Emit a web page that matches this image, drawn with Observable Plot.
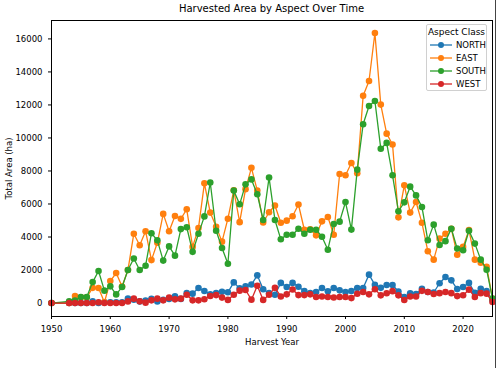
<!DOCTYPE html>
<html>
<head>
<meta charset="utf-8">
<script src="https://cdn.jsdelivr.net/npm/d3@7"></script>
<script src="https://cdn.jsdelivr.net/npm/@observablehq/plot@0.6"></script>
<style>
  html, body { margin: 0; padding: 0; background: #fff; }
  #wrap { position: relative; width: 497px; height: 368px; font-family: "DejaVu Sans", sans-serif; overflow: hidden; }
  #title { position: absolute; left: 51px; width: 441px; top: 3px; text-align: center; font-size: 10px; color: #000; }
  #edge { position: absolute; left: 495px; top: 0; width: 1px; height: 368px; background: #444; }
  #legend { position: absolute; left: 426px; top: 24px; width: 61px; height: 67px; border: 1px solid #d0d0d0; border-radius: 2px; background: rgba(255,255,255,0.85); box-sizing: border-box; font-size: 8.5px; }
  #legend .lt { position: absolute; top: 2px; left: 0; width: 100%; text-align: center; font-size: 9px; }
  #legend .row { position: absolute; left: 2px; height: 12px; }
  #legend svg { position: absolute; left: 0; top: 0; }
  #legend span { position: absolute; left: 27px; top: 0px; line-height: 12px; white-space: nowrap; }
</style>
</head>
<body>
<div id="wrap">
  <div id="chart"></div>
  <div id="title">Harvested Area by Aspect Over Time</div>
  <div id="legend"><div class="lt">Aspect Class</div></div>
  <div id="edge"></div>
</div>
<script>
const years = [1950, 1953, 1954, 1955, 1956, 1957, 1958, 1959, 1960, 1961, 1962, 1963, 1964, 1965, 1966, 1967, 1968, 1969, 1970, 1971, 1972, 1973, 1974, 1975, 1976, 1977, 1978, 1979, 1980, 1981, 1982, 1983, 1984, 1985, 1986, 1987, 1988, 1989, 1990, 1991, 1992, 1993, 1994, 1995, 1996, 1997, 1998, 1999, 2000, 2001, 2002, 2003, 2004, 2005, 2006, 2007, 2008, 2009, 2010, 2011, 2012, 2013, 2014, 2015, 2016, 2017, 2018, 2019, 2020, 2021, 2022, 2023, 2024, 2025];

const north = [0, 0, 0, 0, 0, 100, 0, 50, 50, 50, 50, 267, 200, 100, 150, 250, 100, 200, 250, 406, 250, 600, 570, 909, 727, 527, 600, 680, 650, 1250, 890, 1020, 1120, 1677, 840, 600, 500, 1220, 970, 1220, 990, 720, 606, 667, 909, 709, 909, 770, 667, 727, 909, 909, 1721, 1100, 920, 1090, 1090, 700, 370, 590, 540, 870, 670, 640, 1200, 1576, 1374, 850, 970, 1220, 620, 870, 730, 164];

const east = [0, 0, 420, 350, 350, 920, 910, 50, 1330, 1820, 1000, 2000, 4200, 3500, 4350, 2600, 3650, 5400, 4350, 5270, 5100, 5680, 3400, 4550, 7250, 5480, 4620, 3720, 5110, 6830, 4900, 6900, 8190, 6810, 4880, 5500, 5910, 4860, 4990, 5260, 5970, 4440, 4470, 4100, 4950, 5210, 4140, 7820, 7740, 8480, 7860, 12550, 13450, 16360, 12020, 10260, 9600, 5190, 7130, 5480, 6120, 4860, 3140, 2630, 3900, 4200, 4500, 2930, 3400, 4420, 2630, 2440, 2200, 270];

const south = [0, 100, 150, 364, 364, 1270, 1940, 750, 1010, 525, 970, 2000, 2700, 2000, 2260, 4230, 3800, 2570, 3430, 2870, 4480, 4590, 3100, 4200, 5250, 7300, 4380, 3330, 2380, 6810, 5980, 7190, 7490, 6590, 5030, 7600, 5030, 3860, 4140, 4140, 4500, 4200, 4440, 4440, 4020, 3230, 4790, 4930, 6120, 4450, 8080, 10830, 11940, 12240, 9350, 9700, 7740, 5560, 6100, 7050, 6520, 5820, 3800, 4750, 3520, 3750, 4500, 3300, 3200, 4380, 3600, 2630, 2020, 270];

const west = [0, 0, 0, 0, 0, 0, 50, 0, 0, 0, 0, 100, 267, 103, 24, 164, 267, 164, 327, 224, 267, 500, 164, 164, 230, 430, 480, 330, 190, 500, 750, 790, 206, 1050, 190, 500, 920, 400, 527, 820, 480, 480, 527, 364, 400, 364, 340, 364, 364, 300, 563, 667, 527, 840, 467, 590, 720, 467, 185, 400, 400, 740, 667, 550, 600, 667, 600, 420, 470, 810, 370, 600, 570, 60];

const seriesNames = ["NORTH", "EAST", "SOUTH", "WEST"];
const seriesColors = ["#1f77b4", "#ff7f0e", "#2ca02c", "#d62728"];
const seriesValues = [north, east, south, west];
const yTicks = [0, 2000, 4000, 6000, 8000, 10000, 12000, 14000, 16000];
const xTicks = [1950, 1960, 1970, 1980, 1990, 2000, 2010, 2020];

const marks = [];
seriesNames.forEach((name, i) => {
  const rows = years.map((yr, j) => ({ year: yr, value: seriesValues[i][j], aspect: name }));
  marks.push(Plot.line(rows, { x: "year", y: "value", stroke: seriesColors[i], strokeWidth: 1.3 }));
  marks.push(Plot.dot(rows, { x: "year", y: "value", fill: seriesColors[i], r: 3.3, stroke: "none" }));
});

const chart = Plot.plot({
  width: 497,
  height: 368,
  marginTop: 20,
  marginBottom: 52,
  marginLeft: 51,
  marginRight: 5,
  style: { fontFamily: "DejaVu Sans, sans-serif", fontSize: "8.5px", color: "#000", background: "#fff" },
  x: { domain: [1950, 2025] },
  y: { domain: [-815, 17115] },
  marks: [
    Plot.axisX({ ticks: xTicks, tickFormat: d3.format("d"), tickSize: 3, label: "Harvest Year", labelAnchor: "center", labelOffset: 28, labelArrow: "none" }),
    Plot.axisY({ ticks: yTicks, tickFormat: d3.format("d"), tickSize: 3, label: "Total Area (ha)", labelAnchor: "center", labelOffset: 46, labelArrow: "none" }),
    ...marks,
    Plot.frame({ stroke: "#000", strokeWidth: 1 })
  ]
});
document.getElementById("chart").appendChild(chart);

const legend = document.getElementById("legend");
seriesNames.forEach((name, i) => {
  const row = document.createElement("div");
  row.className = "row";
  row.style.top = (14 + i * 13) + "px";
  row.style.width = "58px";
  row.innerHTML = `<svg width="26" height="12"><line x1="1" x2="23" y1="6" y2="6" stroke="${seriesColors[i]}" stroke-width="1.3"/><circle cx="12" cy="6" r="3" fill="${seriesColors[i]}"/></svg><span>${name}</span>`;
  legend.appendChild(row);
});
</script>
</body>
</html>
